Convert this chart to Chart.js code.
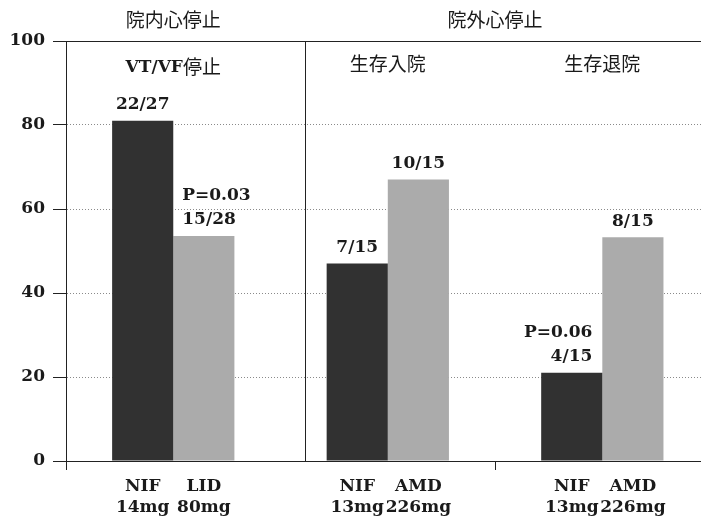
<!DOCTYPE html>
<html lang="ja">
<head>
  <meta charset="UTF-8">
  <title>NIF</title>
  <script src="https://cdn.jsdelivr.net/npm/chart.js"></script>
  <style>
    body { margin: 0; background: #fff; }
    #chart-container { width: 701px; height: 519px; }
  </style>
</head>
<body>
  <div id="chart-container">
    <canvas id="resultChart"></canvas>
  </div>
  <script>
    // groups on the x axis (0, 1, 2)
    const groupPos = [0, 1, 2];
    const headers = ['院内心停止', '院外心停止'];
    const headerPos = [0, 1.5];
    const subtitles = [['VT/VF', '停止'], ['', '生存入院'], ['', '生存退院']];
    const drugNames = [['NIF', 'LID'], ['NIF', 'AMD'], ['NIF', 'AMD']];
    const drugDoses = [['14mg', '80mg'], ['13mg', '226mg'], ['13mg', '226mg']];
    const nifValues = [81, 47, 21];
    const otherValues = [53.6, 67, 53.3];
    const nifCounts = ['22/27', '7/15', '4/15'];
    const otherCounts = ['15/28', '10/15', '8/15'];
    // p value text and which bar of the group it sits on (0 = NIF, 1 = other)
    const pLabels = [['P=0.03', 1], null, ['P=0.06', 0]];
    const yTicks = [0, 20, 40, 60, 80, 100];

    const serif = '"DejaVu Serif", "Liberation Serif", serif';
    const gothic = '"Noto Sans CJK JP", "Noto Sans", sans-serif';
    const ink = '#1a1a1a';
    const dividerAt = 0.614;

    const labelPlugin = {
      id: 'labels',
      afterDraw(chart) {
        const c = chart.ctx;
        const xs = chart.scales.x;
        const area = chart.chartArea;
        c.save();
        // divider between in-hospital and out-of-hospital
        const dx = Math.round(xs.getPixelForValue(dividerAt)) + 0.5;
        c.strokeStyle = '#222';
        c.lineWidth = 1;
        c.beginPath();
        c.moveTo(dx, area.top);
        c.lineTo(dx, area.bottom);
        c.stroke();

        c.fillStyle = ink;
        c.textBaseline = 'middle';
        c.textAlign = 'center';
        c.font = '19px ' + gothic;
        headers.forEach((h, i) => c.fillText(h, xs.getPixelForValue(headerPos[i]), 20));

        subtitles.forEach((s, i) => {
          const cx = xs.getPixelForValue(groupPos[i]);
          c.font = 'bold 17px ' + serif;
          const w1 = s[0] ? c.measureText(s[0]).width : 0;
          c.font = '19px ' + gothic;
          const w2 = c.measureText(s[1]).width;
          let x = cx - (w1 + w2) / 2;
          c.textAlign = 'left';
          if (s[0]) {
            c.font = 'bold 17px ' + serif;
            c.fillText(s[0], x, 68);
          }
          c.font = '19px ' + gothic;
          c.fillText(s[1], x + w1, s[0] ? 67 : 64);
        });

        const metas = [chart.getDatasetMeta(0), chart.getDatasetMeta(1)];
        const counts = [nifCounts, otherCounts];
        c.font = 'bold 17px ' + serif;
        groupPos.forEach((g, i) => {
          for (let b = 0; b < 2; b++) {
            const bar = metas[b].data[i];
            const p = pLabels[i];
            if (p && p[1] === b) {
              let x;
              if (b === 1) {
                c.textAlign = 'left';
                x = bar.x - bar.width / 2 + 9;
              } else {
                c.textAlign = 'right';
                x = bar.x + bar.width / 2 - 10;
              }
              c.fillText(p[0], x, bar.y - 40);
              c.fillText(counts[b][i], x, bar.y - 16);
            } else {
              c.textAlign = 'center';
              c.fillText(counts[b][i], bar.x, bar.y - 16);
            }
            c.textAlign = 'center';
            c.fillText(drugNames[i][b], bar.x, 487);
            c.fillText(drugDoses[i][b], bar.x, 508);
          }
        });
        c.restore();
      }
    };

    const ctx = document.getElementById('resultChart').getContext('2d');
    new Chart(ctx, {
      type: 'bar',
      data: {
        datasets: [
          {
            label: 'NIF',
            data: groupPos.map((g, i) => ({ x: g, y: nifValues[i] })),
            backgroundColor: '#313131',
            borderWidth: 0
          },
          {
            label: 'LID / AMD',
            data: groupPos.map((g, i) => ({ x: g, y: otherValues[i] })),
            backgroundColor: '#ababab',
            borderWidth: 0
          }
        ]
      },
      options: {
        responsive: true,
        maintainAspectRatio: false,
        animation: false,
        categoryPercentage: 0.57,
        barPercentage: 1.0,
        layout: { padding: { top: 41, right: 0, left: 0, bottom: 0 } },
        plugins: {
          legend: { display: false },
          tooltip: { enabled: false }
        },
        scales: {
          x: {
            type: 'linear',
            min: -0.5,
            max: 2.46,
            offset: false,
            ticks: { display: false },
            afterBuildTicks: s => { s.ticks = [{ value: -0.5 }, { value: 1.5 }]; },
            afterFit: s => { s.height = 58; },
            grid: {
              offset: false,
              drawOnChartArea: false,
              tickLength: 9,
              color: '#222'
            },
            border: { color: '#222', width: 1 }
          },
          y: {
            min: 0,
            max: 100,
            afterBuildTicks: s => { s.ticks = yTicks.map(v => ({ value: v })); },
            afterFit: s => { s.width = 66; },
            ticks: {
              padding: 8,
              color: ink,
              font: { family: serif, size: 17, weight: 'bold' }
            },
            grid: {
              tickLength: 13,
              color: c => (c.tick && (c.tick.value === 0 || c.tick.value === 100)) ? '#222' : '#8a8a8a',
              tickColor: '#222'
            },
            border: {
              color: '#222',
              dash: c => (c.tick && c.tick.value !== 0 && c.tick.value !== 100) ? [1, 2] : []
            }
          }
        }
      },
      plugins: [labelPlugin]
    });
  </script>
</body>
</html>
